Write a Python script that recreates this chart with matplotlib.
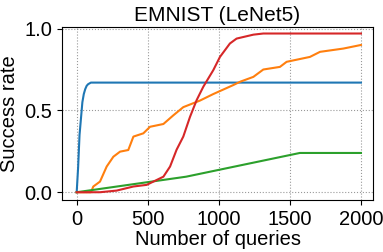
import matplotlib
matplotlib.use("Agg")
import matplotlib.pyplot as plt
import numpy as np

plt.rcParams['font.family'] = ['Liberation Sans', 'DejaVu Sans']

# blue curve
blue_x = [0, 10, 20, 30, 40, 50, 60, 70, 80, 100, 2000]
blue_y = [0, 0.15, 0.35, 0.45, 0.55, 0.60, 0.63, 0.65, 0.66, 0.67, 0.67]

# orange curve
orange_x = [0, 100, 117, 164, 211, 258, 305, 363, 399, 469, 516, 610, 680, 750,
            867, 961, 1102, 1149, 1243, 1313, 1430, 1477, 1641, 1712, 1876, 2000]
orange_y = [0, 0.0, 0.035, 0.065, 0.157, 0.217, 0.248, 0.258, 0.34, 0.36, 0.40, 0.417, 0.47, 0.52,
            0.56, 0.60, 0.655, 0.675, 0.705, 0.75, 0.766, 0.797, 0.827, 0.858, 0.878, 0.90]

# green curve
green_x = [0, 770, 1570, 2000]
green_y = [0, 0.095, 0.24, 0.24]

# red curve
red_x = [0, 164, 281, 399, 492, 563, 610, 657, 703, 750, 797, 844, 891, 961,
         1008, 1078, 1125, 1243, 1313, 2000]
red_y = [0, 0.0, 0.01, 0.035, 0.045, 0.075, 0.095, 0.157, 0.26, 0.34, 0.46, 0.563, 0.645, 0.746,
         0.827, 0.909, 0.939, 0.963, 0.97, 0.97]

fig = plt.figure(figsize=(3.83, 2.52), dpi=100)
ax = fig.add_axes([0.162, 0.206, 0.812, 0.687])

ax.plot(blue_x, blue_y, color='tab:blue', lw=1.5)
ax.plot(orange_x, orange_y, color='tab:orange', lw=1.5)
ax.plot(green_x, green_y, color='tab:green', lw=1.5)
ax.plot(red_x, red_y, color='tab:red', lw=1.5)

ax.set_xlim(-103, 2085)
ax.set_ylim(-0.048, 1.01)
ax.set_xticks([0, 500, 1000, 1500, 2000])
ax.set_yticks([0.0, 0.5, 1.0])
ax.grid(True, linestyle=':', color='gray', alpha=0.8)
ax.tick_params(labelsize=14.5)
ax.set_xlabel('Number of queries', fontsize=14.5, labelpad=1)
ax.set_ylabel('Success rate', fontsize=14.5)
ax.set_title('EMNIST (LeNet5)', fontsize=15, pad=4)

fig.savefig('out.png', dpi=100)
